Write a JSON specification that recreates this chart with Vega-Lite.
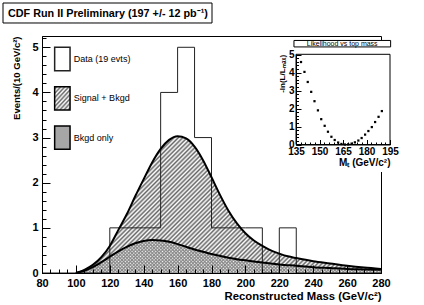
{
"$schema": "https://vega.github.io/schema/vega-lite/v6.json",
"width": 339, "height": 237,
"autosize": {"type": "none"},
"padding": {"left": 42, "top": 36, "right": 43, "bottom": 32},
"background": "white",
"config": {"view": {"stroke": "black", "strokeWidth": 1}, "font": "Liberation Sans", "text": {"font": "Liberation Sans"}},
"datasets": {
"hist": [{"m":80,"n":0},{"m":90,"n":0},{"m":100,"n":0},{"m":110,"n":0},{"m":120,"n":1},{"m":130,"n":1},{"m":140,"n":1},{"m":150,"n":4},{"m":160,"n":5},{"m":170,"n":3},{"m":180,"n":1},{"m":190,"n":1},{"m":200,"n":1},{"m":210,"n":0},{"m":220,"n":1},{"m":230,"n":0},{"m":240,"n":0},{"m":250,"n":0},{"m":260,"n":0},{"m":270,"n":0},{"m":280,"n":0}],
"sig": [{"m":100,"v":0},{"m":105,"v":0.07},{"m":110,"v":0.18},{"m":115,"v":0.35},{"m":120,"v":0.6},{"m":125,"v":0.95},{"m":130,"v":1.3},{"m":135,"v":1.7},{"m":140,"v":2.08},{"m":145,"v":2.45},{"m":150,"v":2.75},{"m":155,"v":2.95},{"m":160,"v":3.03},{"m":165,"v":2.98},{"m":170,"v":2.8},{"m":175,"v":2.5},{"m":180,"v":2.12},{"m":185,"v":1.73},{"m":190,"v":1.38},{"m":195,"v":1.1},{"m":200,"v":0.88},{"m":205,"v":0.72},{"m":210,"v":0.6},{"m":215,"v":0.5},{"m":220,"v":0.43},{"m":225,"v":0.37},{"m":230,"v":0.33},{"m":240,"v":0.26},{"m":250,"v":0.21},{"m":260,"v":0.16},{"m":270,"v":0.12},{"m":280,"v":0.09}],
"bkg": [{"m":100,"v":0},{"m":105,"v":0.05},{"m":110,"v":0.13},{"m":115,"v":0.24},{"m":120,"v":0.36},{"m":125,"v":0.48},{"m":130,"v":0.58},{"m":135,"v":0.66},{"m":140,"v":0.71},{"m":145,"v":0.73},{"m":150,"v":0.72},{"m":155,"v":0.69},{"m":160,"v":0.64},{"m":165,"v":0.58},{"m":170,"v":0.52},{"m":175,"v":0.47},{"m":180,"v":0.42},{"m":190,"v":0.34},{"m":200,"v":0.28},{"m":210,"v":0.23},{"m":220,"v":0.19},{"m":230,"v":0.16},{"m":240,"v":0.13},{"m":250,"v":0.11},{"m":260,"v":0.09},{"m":270,"v":0.08},{"m":280,"v":0.07}],
"lik": [{"mt":138.2,"nll":4.59},{"mt":140.4,"nll":4.04},{"mt":142.5,"nll":3.48},{"mt":144.7,"nll":2.93},{"mt":146.8,"nll":2.41},{"mt":149.0,"nll":1.9},{"mt":151.1,"nll":1.41},{"mt":153.3,"nll":1.04},{"mt":155.4,"nll":0.71},{"mt":157.6,"nll":0.43},{"mt":159.7,"nll":0.25},{"mt":161.9,"nll":0.11},{"mt":164.0,"nll":0.03},{"mt":166.2,"nll":0.0},{"mt":168.3,"nll":0.01},{"mt":170.5,"nll":0.05},{"mt":172.6,"nll":0.12},{"mt":174.8,"nll":0.22},{"mt":176.9,"nll":0.36},{"mt":179.1,"nll":0.55},{"mt":181.2,"nll":0.75},{"mt":183.4,"nll":0.97},{"mt":185.5,"nll":1.25},{"mt":187.7,"nll":1.54},{"mt":189.8,"nll":1.86}]
},
"layer": [
{"layer": [
 {"data": {"name": "sig"},
  "mark": {"type": "area", "interpolate": "monotone", "stroke": null, "fill": {"gradient": "linear", "x1": 0, "y1": 0, "x2": 1.206, "y2": 0.541, "stops": [
{"offset":0,"color":"#fff"},{"offset":0.005,"color":"#666"},{"offset":0.01,"color":"#fff"},{"offset":0.015,"color":"#666"},{"offset":0.02,"color":"#fff"},{"offset":0.025,"color":"#666"},{"offset":0.03,"color":"#fff"},{"offset":0.035,"color":"#666"},{"offset":0.04,"color":"#fff"},{"offset":0.045,"color":"#666"},
{"offset":0.05,"color":"#fff"},{"offset":0.055,"color":"#666"},{"offset":0.06,"color":"#fff"},{"offset":0.065,"color":"#666"},{"offset":0.07,"color":"#fff"},{"offset":0.075,"color":"#666"},{"offset":0.08,"color":"#fff"},{"offset":0.085,"color":"#666"},{"offset":0.09,"color":"#fff"},{"offset":0.095,"color":"#666"},
{"offset":0.1,"color":"#fff"},{"offset":0.105,"color":"#666"},{"offset":0.11,"color":"#fff"},{"offset":0.115,"color":"#666"},{"offset":0.12,"color":"#fff"},{"offset":0.125,"color":"#666"},{"offset":0.13,"color":"#fff"},{"offset":0.135,"color":"#666"},{"offset":0.14,"color":"#fff"},{"offset":0.145,"color":"#666"},
{"offset":0.15,"color":"#fff"},{"offset":0.155,"color":"#666"},{"offset":0.16,"color":"#fff"},{"offset":0.165,"color":"#666"},{"offset":0.17,"color":"#fff"},{"offset":0.175,"color":"#666"},{"offset":0.18,"color":"#fff"},{"offset":0.185,"color":"#666"},{"offset":0.19,"color":"#fff"},{"offset":0.195,"color":"#666"},
{"offset":0.2,"color":"#fff"},{"offset":0.205,"color":"#666"},{"offset":0.21,"color":"#fff"},{"offset":0.215,"color":"#666"},{"offset":0.22,"color":"#fff"},{"offset":0.225,"color":"#666"},{"offset":0.23,"color":"#fff"},{"offset":0.235,"color":"#666"},{"offset":0.24,"color":"#fff"},{"offset":0.245,"color":"#666"},
{"offset":0.25,"color":"#fff"},{"offset":0.255,"color":"#666"},{"offset":0.26,"color":"#fff"},{"offset":0.265,"color":"#666"},{"offset":0.27,"color":"#fff"},{"offset":0.275,"color":"#666"},{"offset":0.28,"color":"#fff"},{"offset":0.285,"color":"#666"},{"offset":0.29,"color":"#fff"},{"offset":0.295,"color":"#666"},
{"offset":0.3,"color":"#fff"},{"offset":0.305,"color":"#666"},{"offset":0.31,"color":"#fff"},{"offset":0.315,"color":"#666"},{"offset":0.32,"color":"#fff"},{"offset":0.325,"color":"#666"},{"offset":0.33,"color":"#fff"},{"offset":0.335,"color":"#666"},{"offset":0.34,"color":"#fff"},{"offset":0.345,"color":"#666"},
{"offset":0.35,"color":"#fff"},{"offset":0.355,"color":"#666"},{"offset":0.36,"color":"#fff"},{"offset":0.365,"color":"#666"},{"offset":0.37,"color":"#fff"},{"offset":0.375,"color":"#666"},{"offset":0.38,"color":"#fff"},{"offset":0.385,"color":"#666"},{"offset":0.39,"color":"#fff"},{"offset":0.395,"color":"#666"},
{"offset":0.4,"color":"#fff"},{"offset":0.405,"color":"#666"},{"offset":0.41,"color":"#fff"},{"offset":0.415,"color":"#666"},{"offset":0.42,"color":"#fff"},{"offset":0.425,"color":"#666"},{"offset":0.43,"color":"#fff"},{"offset":0.435,"color":"#666"},{"offset":0.44,"color":"#fff"},{"offset":0.445,"color":"#666"},
{"offset":0.45,"color":"#fff"},{"offset":0.455,"color":"#666"},{"offset":0.46,"color":"#fff"},{"offset":0.465,"color":"#666"},{"offset":0.47,"color":"#fff"},{"offset":0.475,"color":"#666"},{"offset":0.48,"color":"#fff"},{"offset":0.485,"color":"#666"},{"offset":0.49,"color":"#fff"},{"offset":0.495,"color":"#666"},
{"offset":0.5,"color":"#fff"},{"offset":0.505,"color":"#666"},{"offset":0.51,"color":"#fff"},{"offset":0.515,"color":"#666"},{"offset":0.52,"color":"#fff"},{"offset":0.525,"color":"#666"},{"offset":0.53,"color":"#fff"},{"offset":0.535,"color":"#666"},{"offset":0.54,"color":"#fff"},{"offset":0.545,"color":"#666"},
{"offset":0.55,"color":"#fff"},{"offset":0.555,"color":"#666"},{"offset":0.56,"color":"#fff"},{"offset":0.565,"color":"#666"},{"offset":0.57,"color":"#fff"},{"offset":0.575,"color":"#666"},{"offset":0.58,"color":"#fff"},{"offset":0.585,"color":"#666"},{"offset":0.59,"color":"#fff"},{"offset":0.595,"color":"#666"},
{"offset":0.6,"color":"#fff"},{"offset":0.605,"color":"#666"},{"offset":0.61,"color":"#fff"},{"offset":0.615,"color":"#666"},{"offset":0.62,"color":"#fff"},{"offset":0.625,"color":"#666"},{"offset":0.63,"color":"#fff"},{"offset":0.635,"color":"#666"},{"offset":0.64,"color":"#fff"},{"offset":0.645,"color":"#666"},
{"offset":0.65,"color":"#fff"},{"offset":0.655,"color":"#666"},{"offset":0.66,"color":"#fff"},{"offset":0.665,"color":"#666"},{"offset":0.67,"color":"#fff"},{"offset":0.675,"color":"#666"},{"offset":0.68,"color":"#fff"},{"offset":0.685,"color":"#666"},{"offset":0.69,"color":"#fff"},{"offset":0.695,"color":"#666"},
{"offset":0.7,"color":"#fff"},{"offset":0.705,"color":"#666"},{"offset":0.71,"color":"#fff"},{"offset":0.715,"color":"#666"},{"offset":0.72,"color":"#fff"},{"offset":0.725,"color":"#666"},{"offset":0.73,"color":"#fff"},{"offset":0.735,"color":"#666"},{"offset":0.74,"color":"#fff"},{"offset":0.745,"color":"#666"},
{"offset":0.75,"color":"#fff"},{"offset":0.755,"color":"#666"},{"offset":0.76,"color":"#fff"},{"offset":0.765,"color":"#666"},{"offset":0.77,"color":"#fff"},{"offset":0.775,"color":"#666"},{"offset":0.78,"color":"#fff"},{"offset":0.785,"color":"#666"},{"offset":0.79,"color":"#fff"},{"offset":0.795,"color":"#666"},
{"offset":0.8,"color":"#fff"},{"offset":0.805,"color":"#666"},{"offset":0.81,"color":"#fff"},{"offset":0.815,"color":"#666"},{"offset":0.82,"color":"#fff"},{"offset":0.825,"color":"#666"},{"offset":0.83,"color":"#fff"},{"offset":0.835,"color":"#666"},{"offset":0.84,"color":"#fff"},{"offset":0.845,"color":"#666"},
{"offset":0.85,"color":"#fff"},{"offset":0.855,"color":"#666"},{"offset":0.86,"color":"#fff"},{"offset":0.865,"color":"#666"},{"offset":0.87,"color":"#fff"},{"offset":0.875,"color":"#666"},{"offset":0.88,"color":"#fff"},{"offset":0.885,"color":"#666"},{"offset":0.89,"color":"#fff"},{"offset":0.895,"color":"#666"},
{"offset":0.9,"color":"#fff"},{"offset":0.905,"color":"#666"},{"offset":0.91,"color":"#fff"},{"offset":0.915,"color":"#666"},{"offset":0.92,"color":"#fff"},{"offset":0.925,"color":"#666"},{"offset":0.93,"color":"#fff"},{"offset":0.935,"color":"#666"},{"offset":0.94,"color":"#fff"},{"offset":0.945,"color":"#666"},
{"offset":0.95,"color":"#fff"},{"offset":0.955,"color":"#666"},{"offset":0.96,"color":"#fff"},{"offset":0.965,"color":"#666"},{"offset":0.97,"color":"#fff"},{"offset":0.975,"color":"#666"},{"offset":0.98,"color":"#fff"},{"offset":0.985,"color":"#666"},{"offset":0.99,"color":"#fff"},{"offset":0.995,"color":"#666"},
{"offset":1,"color":"#fff"}]}},
  "encoding": {
   "x": {"field": "m", "type": "quantitative", "scale": {"domain": [80, 280], "nice": false, "zero": false},
    "axis": {"orient": "bottom", "values": [80,100,120,140,160,180,200,220,240,260,280],
     "format": "d", "labelOverlap": false, "labelFlush": false, "tickSize": -8, "labelPadding": 12,
     "domainColor": "black", "tickColor": "black", "grid": false, "zindex": 1,
     "labelFont": "Liberation Sans", "labelFontWeight": "bold", "labelFontSize": 11, "labelColor": "black",
     "title": "Reconstructed Mass (GeV/c²)", "titleAnchor": "end", "titleFont": "Liberation Sans", "titleFontWeight": "bold", "titleFontSize": 11.3, "titleColor": "black", "titlePadding": 2}},
   "y": {"field": "v", "type": "quantitative", "stack": null, "scale": {"domain": [0, 5.25], "nice": false, "zero": false},
    "axis": {"orient": "left", "values": [0,1,2,3,4,5],
     "format": "d", "labelOverlap": false, "labelFlush": false, "tickSize": -8, "labelPadding": 12,
     "domainColor": "black", "tickColor": "black", "grid": false, "zindex": 1,
     "labelFont": "Liberation Sans", "labelFontWeight": "bold", "labelFontSize": 11, "labelColor": "black",
     "title": "Events/(10 GeV/c²)", "titleAnchor": "end", "titleFont": "Liberation Sans", "titleFontWeight": "bold", "titleFontSize": 9.5, "titleColor": "black", "titlePadding": 10}}
  }},
 {"data": {"name": "bkg"},
  "mark": {"type": "area", "interpolate": "monotone", "stroke": null, "fill": {"gradient": "linear", "x1": 0, "y1": 0, "x2": 1.095, "y2": 0.1183, "stops": [
{"offset":0,"color":"#fff"},{"offset":0.005,"color":"#888"},{"offset":0.01,"color":"#fff"},{"offset":0.015,"color":"#888"},{"offset":0.02,"color":"#fff"},{"offset":0.025,"color":"#888"},{"offset":0.03,"color":"#fff"},{"offset":0.035,"color":"#888"},{"offset":0.04,"color":"#fff"},{"offset":0.045,"color":"#888"},
{"offset":0.05,"color":"#fff"},{"offset":0.055,"color":"#888"},{"offset":0.06,"color":"#fff"},{"offset":0.065,"color":"#888"},{"offset":0.07,"color":"#fff"},{"offset":0.075,"color":"#888"},{"offset":0.08,"color":"#fff"},{"offset":0.085,"color":"#888"},{"offset":0.09,"color":"#fff"},{"offset":0.095,"color":"#888"},
{"offset":0.1,"color":"#fff"},{"offset":0.105,"color":"#888"},{"offset":0.11,"color":"#fff"},{"offset":0.115,"color":"#888"},{"offset":0.12,"color":"#fff"},{"offset":0.125,"color":"#888"},{"offset":0.13,"color":"#fff"},{"offset":0.135,"color":"#888"},{"offset":0.14,"color":"#fff"},{"offset":0.145,"color":"#888"},
{"offset":0.15,"color":"#fff"},{"offset":0.155,"color":"#888"},{"offset":0.16,"color":"#fff"},{"offset":0.165,"color":"#888"},{"offset":0.17,"color":"#fff"},{"offset":0.175,"color":"#888"},{"offset":0.18,"color":"#fff"},{"offset":0.185,"color":"#888"},{"offset":0.19,"color":"#fff"},{"offset":0.195,"color":"#888"},
{"offset":0.2,"color":"#fff"},{"offset":0.205,"color":"#888"},{"offset":0.21,"color":"#fff"},{"offset":0.215,"color":"#888"},{"offset":0.22,"color":"#fff"},{"offset":0.225,"color":"#888"},{"offset":0.23,"color":"#fff"},{"offset":0.235,"color":"#888"},{"offset":0.24,"color":"#fff"},{"offset":0.245,"color":"#888"},
{"offset":0.25,"color":"#fff"},{"offset":0.255,"color":"#888"},{"offset":0.26,"color":"#fff"},{"offset":0.265,"color":"#888"},{"offset":0.27,"color":"#fff"},{"offset":0.275,"color":"#888"},{"offset":0.28,"color":"#fff"},{"offset":0.285,"color":"#888"},{"offset":0.29,"color":"#fff"},{"offset":0.295,"color":"#888"},
{"offset":0.3,"color":"#fff"},{"offset":0.305,"color":"#888"},{"offset":0.31,"color":"#fff"},{"offset":0.315,"color":"#888"},{"offset":0.32,"color":"#fff"},{"offset":0.325,"color":"#888"},{"offset":0.33,"color":"#fff"},{"offset":0.335,"color":"#888"},{"offset":0.34,"color":"#fff"},{"offset":0.345,"color":"#888"},
{"offset":0.35,"color":"#fff"},{"offset":0.355,"color":"#888"},{"offset":0.36,"color":"#fff"},{"offset":0.365,"color":"#888"},{"offset":0.37,"color":"#fff"},{"offset":0.375,"color":"#888"},{"offset":0.38,"color":"#fff"},{"offset":0.385,"color":"#888"},{"offset":0.39,"color":"#fff"},{"offset":0.395,"color":"#888"},
{"offset":0.4,"color":"#fff"},{"offset":0.405,"color":"#888"},{"offset":0.41,"color":"#fff"},{"offset":0.415,"color":"#888"},{"offset":0.42,"color":"#fff"},{"offset":0.425,"color":"#888"},{"offset":0.43,"color":"#fff"},{"offset":0.435,"color":"#888"},{"offset":0.44,"color":"#fff"},{"offset":0.445,"color":"#888"},
{"offset":0.45,"color":"#fff"},{"offset":0.455,"color":"#888"},{"offset":0.46,"color":"#fff"},{"offset":0.465,"color":"#888"},{"offset":0.47,"color":"#fff"},{"offset":0.475,"color":"#888"},{"offset":0.48,"color":"#fff"},{"offset":0.485,"color":"#888"},{"offset":0.49,"color":"#fff"},{"offset":0.495,"color":"#888"},
{"offset":0.5,"color":"#fff"},{"offset":0.505,"color":"#888"},{"offset":0.51,"color":"#fff"},{"offset":0.515,"color":"#888"},{"offset":0.52,"color":"#fff"},{"offset":0.525,"color":"#888"},{"offset":0.53,"color":"#fff"},{"offset":0.535,"color":"#888"},{"offset":0.54,"color":"#fff"},{"offset":0.545,"color":"#888"},
{"offset":0.55,"color":"#fff"},{"offset":0.555,"color":"#888"},{"offset":0.56,"color":"#fff"},{"offset":0.565,"color":"#888"},{"offset":0.57,"color":"#fff"},{"offset":0.575,"color":"#888"},{"offset":0.58,"color":"#fff"},{"offset":0.585,"color":"#888"},{"offset":0.59,"color":"#fff"},{"offset":0.595,"color":"#888"},
{"offset":0.6,"color":"#fff"},{"offset":0.605,"color":"#888"},{"offset":0.61,"color":"#fff"},{"offset":0.615,"color":"#888"},{"offset":0.62,"color":"#fff"},{"offset":0.625,"color":"#888"},{"offset":0.63,"color":"#fff"},{"offset":0.635,"color":"#888"},{"offset":0.64,"color":"#fff"},{"offset":0.645,"color":"#888"},
{"offset":0.65,"color":"#fff"},{"offset":0.655,"color":"#888"},{"offset":0.66,"color":"#fff"},{"offset":0.665,"color":"#888"},{"offset":0.67,"color":"#fff"},{"offset":0.675,"color":"#888"},{"offset":0.68,"color":"#fff"},{"offset":0.685,"color":"#888"},{"offset":0.69,"color":"#fff"},{"offset":0.695,"color":"#888"},
{"offset":0.7,"color":"#fff"},{"offset":0.705,"color":"#888"},{"offset":0.71,"color":"#fff"},{"offset":0.715,"color":"#888"},{"offset":0.72,"color":"#fff"},{"offset":0.725,"color":"#888"},{"offset":0.73,"color":"#fff"},{"offset":0.735,"color":"#888"},{"offset":0.74,"color":"#fff"},{"offset":0.745,"color":"#888"},
{"offset":0.75,"color":"#fff"},{"offset":0.755,"color":"#888"},{"offset":0.76,"color":"#fff"},{"offset":0.765,"color":"#888"},{"offset":0.77,"color":"#fff"},{"offset":0.775,"color":"#888"},{"offset":0.78,"color":"#fff"},{"offset":0.785,"color":"#888"},{"offset":0.79,"color":"#fff"},{"offset":0.795,"color":"#888"},
{"offset":0.8,"color":"#fff"},{"offset":0.805,"color":"#888"},{"offset":0.81,"color":"#fff"},{"offset":0.815,"color":"#888"},{"offset":0.82,"color":"#fff"},{"offset":0.825,"color":"#888"},{"offset":0.83,"color":"#fff"},{"offset":0.835,"color":"#888"},{"offset":0.84,"color":"#fff"},{"offset":0.845,"color":"#888"},
{"offset":0.85,"color":"#fff"},{"offset":0.855,"color":"#888"},{"offset":0.86,"color":"#fff"},{"offset":0.865,"color":"#888"},{"offset":0.87,"color":"#fff"},{"offset":0.875,"color":"#888"},{"offset":0.88,"color":"#fff"},{"offset":0.885,"color":"#888"},{"offset":0.89,"color":"#fff"},{"offset":0.895,"color":"#888"},
{"offset":0.9,"color":"#fff"},{"offset":0.905,"color":"#888"},{"offset":0.91,"color":"#fff"},{"offset":0.915,"color":"#888"},{"offset":0.92,"color":"#fff"},{"offset":0.925,"color":"#888"},{"offset":0.93,"color":"#fff"},{"offset":0.935,"color":"#888"},{"offset":0.94,"color":"#fff"},{"offset":0.945,"color":"#888"},
{"offset":0.95,"color":"#fff"},{"offset":0.955,"color":"#888"},{"offset":0.96,"color":"#fff"},{"offset":0.965,"color":"#888"},{"offset":0.97,"color":"#fff"},{"offset":0.975,"color":"#888"},{"offset":0.98,"color":"#fff"},{"offset":0.985,"color":"#888"},{"offset":0.99,"color":"#fff"},{"offset":0.995,"color":"#888"},
{"offset":1,"color":"#fff"}]}},
  "encoding": {
   "x": {"field": "m", "type": "quantitative",
    "axis": {"orient": "bottom", "values": [80,85,90,95,100,105,110,115,120,125,130,135,140,145,150,155,160,165,170,175,180,185,190,195,200,205,210,215,220,225,230,235,240,245,250,255,260,265,270,275,280],
     "labels": false, "domain": false, "title": null, "grid": false, "tickSize": -4, "tickColor": "black", "zindex": 1}},
   "y": {"field": "v", "type": "quantitative", "stack": null,
    "axis": {"orient": "left", "values": [0,0.2,0.4,0.6,0.8,1,1.2,1.4,1.6,1.8,2,2.2,2.4,2.6,2.8,3,3.2,3.4,3.6,3.8,4,4.2,4.4,4.6,4.8,5,5.2],
     "labels": false, "domain": false, "title": null, "grid": false, "tickSize": -4, "tickColor": "black", "zindex": 1}}}},
 {"data": {"name": "bkg"},
  "mark": {"type": "area", "interpolate": "monotone", "stroke": null, "fill": {"gradient": "linear", "x1": 0, "y1": 1, "x2": 1.095, "y2": 0.8817, "stops": [
{"offset":0,"color":"rgba(136,136,136,0)"},{"offset":0.005,"color":"#888"},{"offset":0.01,"color":"rgba(136,136,136,0)"},{"offset":0.015,"color":"#888"},{"offset":0.02,"color":"rgba(136,136,136,0)"},{"offset":0.025,"color":"#888"},{"offset":0.03,"color":"rgba(136,136,136,0)"},{"offset":0.035,"color":"#888"},{"offset":0.04,"color":"rgba(136,136,136,0)"},{"offset":0.045,"color":"#888"},
{"offset":0.05,"color":"rgba(136,136,136,0)"},{"offset":0.055,"color":"#888"},{"offset":0.06,"color":"rgba(136,136,136,0)"},{"offset":0.065,"color":"#888"},{"offset":0.07,"color":"rgba(136,136,136,0)"},{"offset":0.075,"color":"#888"},{"offset":0.08,"color":"rgba(136,136,136,0)"},{"offset":0.085,"color":"#888"},{"offset":0.09,"color":"rgba(136,136,136,0)"},{"offset":0.095,"color":"#888"},
{"offset":0.1,"color":"rgba(136,136,136,0)"},{"offset":0.105,"color":"#888"},{"offset":0.11,"color":"rgba(136,136,136,0)"},{"offset":0.115,"color":"#888"},{"offset":0.12,"color":"rgba(136,136,136,0)"},{"offset":0.125,"color":"#888"},{"offset":0.13,"color":"rgba(136,136,136,0)"},{"offset":0.135,"color":"#888"},{"offset":0.14,"color":"rgba(136,136,136,0)"},{"offset":0.145,"color":"#888"},
{"offset":0.15,"color":"rgba(136,136,136,0)"},{"offset":0.155,"color":"#888"},{"offset":0.16,"color":"rgba(136,136,136,0)"},{"offset":0.165,"color":"#888"},{"offset":0.17,"color":"rgba(136,136,136,0)"},{"offset":0.175,"color":"#888"},{"offset":0.18,"color":"rgba(136,136,136,0)"},{"offset":0.185,"color":"#888"},{"offset":0.19,"color":"rgba(136,136,136,0)"},{"offset":0.195,"color":"#888"},
{"offset":0.2,"color":"rgba(136,136,136,0)"},{"offset":0.205,"color":"#888"},{"offset":0.21,"color":"rgba(136,136,136,0)"},{"offset":0.215,"color":"#888"},{"offset":0.22,"color":"rgba(136,136,136,0)"},{"offset":0.225,"color":"#888"},{"offset":0.23,"color":"rgba(136,136,136,0)"},{"offset":0.235,"color":"#888"},{"offset":0.24,"color":"rgba(136,136,136,0)"},{"offset":0.245,"color":"#888"},
{"offset":0.25,"color":"rgba(136,136,136,0)"},{"offset":0.255,"color":"#888"},{"offset":0.26,"color":"rgba(136,136,136,0)"},{"offset":0.265,"color":"#888"},{"offset":0.27,"color":"rgba(136,136,136,0)"},{"offset":0.275,"color":"#888"},{"offset":0.28,"color":"rgba(136,136,136,0)"},{"offset":0.285,"color":"#888"},{"offset":0.29,"color":"rgba(136,136,136,0)"},{"offset":0.295,"color":"#888"},
{"offset":0.3,"color":"rgba(136,136,136,0)"},{"offset":0.305,"color":"#888"},{"offset":0.31,"color":"rgba(136,136,136,0)"},{"offset":0.315,"color":"#888"},{"offset":0.32,"color":"rgba(136,136,136,0)"},{"offset":0.325,"color":"#888"},{"offset":0.33,"color":"rgba(136,136,136,0)"},{"offset":0.335,"color":"#888"},{"offset":0.34,"color":"rgba(136,136,136,0)"},{"offset":0.345,"color":"#888"},
{"offset":0.35,"color":"rgba(136,136,136,0)"},{"offset":0.355,"color":"#888"},{"offset":0.36,"color":"rgba(136,136,136,0)"},{"offset":0.365,"color":"#888"},{"offset":0.37,"color":"rgba(136,136,136,0)"},{"offset":0.375,"color":"#888"},{"offset":0.38,"color":"rgba(136,136,136,0)"},{"offset":0.385,"color":"#888"},{"offset":0.39,"color":"rgba(136,136,136,0)"},{"offset":0.395,"color":"#888"},
{"offset":0.4,"color":"rgba(136,136,136,0)"},{"offset":0.405,"color":"#888"},{"offset":0.41,"color":"rgba(136,136,136,0)"},{"offset":0.415,"color":"#888"},{"offset":0.42,"color":"rgba(136,136,136,0)"},{"offset":0.425,"color":"#888"},{"offset":0.43,"color":"rgba(136,136,136,0)"},{"offset":0.435,"color":"#888"},{"offset":0.44,"color":"rgba(136,136,136,0)"},{"offset":0.445,"color":"#888"},
{"offset":0.45,"color":"rgba(136,136,136,0)"},{"offset":0.455,"color":"#888"},{"offset":0.46,"color":"rgba(136,136,136,0)"},{"offset":0.465,"color":"#888"},{"offset":0.47,"color":"rgba(136,136,136,0)"},{"offset":0.475,"color":"#888"},{"offset":0.48,"color":"rgba(136,136,136,0)"},{"offset":0.485,"color":"#888"},{"offset":0.49,"color":"rgba(136,136,136,0)"},{"offset":0.495,"color":"#888"},
{"offset":0.5,"color":"rgba(136,136,136,0)"},{"offset":0.505,"color":"#888"},{"offset":0.51,"color":"rgba(136,136,136,0)"},{"offset":0.515,"color":"#888"},{"offset":0.52,"color":"rgba(136,136,136,0)"},{"offset":0.525,"color":"#888"},{"offset":0.53,"color":"rgba(136,136,136,0)"},{"offset":0.535,"color":"#888"},{"offset":0.54,"color":"rgba(136,136,136,0)"},{"offset":0.545,"color":"#888"},
{"offset":0.55,"color":"rgba(136,136,136,0)"},{"offset":0.555,"color":"#888"},{"offset":0.56,"color":"rgba(136,136,136,0)"},{"offset":0.565,"color":"#888"},{"offset":0.57,"color":"rgba(136,136,136,0)"},{"offset":0.575,"color":"#888"},{"offset":0.58,"color":"rgba(136,136,136,0)"},{"offset":0.585,"color":"#888"},{"offset":0.59,"color":"rgba(136,136,136,0)"},{"offset":0.595,"color":"#888"},
{"offset":0.6,"color":"rgba(136,136,136,0)"},{"offset":0.605,"color":"#888"},{"offset":0.61,"color":"rgba(136,136,136,0)"},{"offset":0.615,"color":"#888"},{"offset":0.62,"color":"rgba(136,136,136,0)"},{"offset":0.625,"color":"#888"},{"offset":0.63,"color":"rgba(136,136,136,0)"},{"offset":0.635,"color":"#888"},{"offset":0.64,"color":"rgba(136,136,136,0)"},{"offset":0.645,"color":"#888"},
{"offset":0.65,"color":"rgba(136,136,136,0)"},{"offset":0.655,"color":"#888"},{"offset":0.66,"color":"rgba(136,136,136,0)"},{"offset":0.665,"color":"#888"},{"offset":0.67,"color":"rgba(136,136,136,0)"},{"offset":0.675,"color":"#888"},{"offset":0.68,"color":"rgba(136,136,136,0)"},{"offset":0.685,"color":"#888"},{"offset":0.69,"color":"rgba(136,136,136,0)"},{"offset":0.695,"color":"#888"},
{"offset":0.7,"color":"rgba(136,136,136,0)"},{"offset":0.705,"color":"#888"},{"offset":0.71,"color":"rgba(136,136,136,0)"},{"offset":0.715,"color":"#888"},{"offset":0.72,"color":"rgba(136,136,136,0)"},{"offset":0.725,"color":"#888"},{"offset":0.73,"color":"rgba(136,136,136,0)"},{"offset":0.735,"color":"#888"},{"offset":0.74,"color":"rgba(136,136,136,0)"},{"offset":0.745,"color":"#888"},
{"offset":0.75,"color":"rgba(136,136,136,0)"},{"offset":0.755,"color":"#888"},{"offset":0.76,"color":"rgba(136,136,136,0)"},{"offset":0.765,"color":"#888"},{"offset":0.77,"color":"rgba(136,136,136,0)"},{"offset":0.775,"color":"#888"},{"offset":0.78,"color":"rgba(136,136,136,0)"},{"offset":0.785,"color":"#888"},{"offset":0.79,"color":"rgba(136,136,136,0)"},{"offset":0.795,"color":"#888"},
{"offset":0.8,"color":"rgba(136,136,136,0)"},{"offset":0.805,"color":"#888"},{"offset":0.81,"color":"rgba(136,136,136,0)"},{"offset":0.815,"color":"#888"},{"offset":0.82,"color":"rgba(136,136,136,0)"},{"offset":0.825,"color":"#888"},{"offset":0.83,"color":"rgba(136,136,136,0)"},{"offset":0.835,"color":"#888"},{"offset":0.84,"color":"rgba(136,136,136,0)"},{"offset":0.845,"color":"#888"},
{"offset":0.85,"color":"rgba(136,136,136,0)"},{"offset":0.855,"color":"#888"},{"offset":0.86,"color":"rgba(136,136,136,0)"},{"offset":0.865,"color":"#888"},{"offset":0.87,"color":"rgba(136,136,136,0)"},{"offset":0.875,"color":"#888"},{"offset":0.88,"color":"rgba(136,136,136,0)"},{"offset":0.885,"color":"#888"},{"offset":0.89,"color":"rgba(136,136,136,0)"},{"offset":0.895,"color":"#888"},
{"offset":0.9,"color":"rgba(136,136,136,0)"},{"offset":0.905,"color":"#888"},{"offset":0.91,"color":"rgba(136,136,136,0)"},{"offset":0.915,"color":"#888"},{"offset":0.92,"color":"rgba(136,136,136,0)"},{"offset":0.925,"color":"#888"},{"offset":0.93,"color":"rgba(136,136,136,0)"},{"offset":0.935,"color":"#888"},{"offset":0.94,"color":"rgba(136,136,136,0)"},{"offset":0.945,"color":"#888"},
{"offset":0.95,"color":"rgba(136,136,136,0)"},{"offset":0.955,"color":"#888"},{"offset":0.96,"color":"rgba(136,136,136,0)"},{"offset":0.965,"color":"#888"},{"offset":0.97,"color":"rgba(136,136,136,0)"},{"offset":0.975,"color":"#888"},{"offset":0.98,"color":"rgba(136,136,136,0)"},{"offset":0.985,"color":"#888"},{"offset":0.99,"color":"rgba(136,136,136,0)"},{"offset":0.995,"color":"#888"},
{"offset":1,"color":"rgba(136,136,136,0)"}]}},
  "encoding": {"x": {"field": "m", "type": "quantitative", "axis": null}, "y": {"field": "v", "type": "quantitative", "stack": null, "axis": null}}},
 {"data": {"name": "hist"},
  "mark": {"type": "line", "interpolate": "step-after", "strokeWidth": 1},
  "encoding": {"x": {"field": "m", "type": "quantitative", "axis": null}, "y": {"field": "n", "type": "quantitative", "axis": null},
   "stroke": {"datum": "Data (19 evts)", "type": "nominal",
    "scale": {"domain": ["Data (19 evts)", "Signal + Bkgd", "Bkgd only"], "range": ["#222222", "black", "black"]},
    "legend": {"orient": "none", "legendX": 7.85, "legendY": 10.5, "title": null,
     "symbolType": "M-0.66,-1H0.66V1H-0.66Z", "symbolSize": 543, "symbolStrokeWidth": 1.5, "symbolStrokeColor": "black",
     "rowPadding": 8.3, "padding": 0, "labelFont": "Liberation Sans", "labelFontSize": 9, "labelColor": "black", "labelOffset": -1,
     "encode": {"symbols": {"update": {"stroke": {"value": "black"}, "strokeWidth": {"value": 1.5},
      "fill": {"signal": "datum.value === 'Signal + Bkgd' ? {gradient: 'linear', x1: 0, y1: 0, x2: 0.813, y2: 1.134, stops: [{offset: 0, color: '#fff'}, {offset: 0.056, color: '#666'}, {offset: 0.111, color: '#fff'}, {offset: 0.167, color: '#666'}, {offset: 0.222, color: '#fff'}, {offset: 0.278, color: '#666'}, {offset: 0.333, color: '#fff'}, {offset: 0.389, color: '#666'}, {offset: 0.444, color: '#fff'}, {offset: 0.5, color: '#666'}, {offset: 0.556, color: '#fff'}, {offset: 0.611, color: '#666'}, {offset: 0.667, color: '#fff'}, {offset: 0.722, color: '#666'}, {offset: 0.778, color: '#fff'}, {offset: 0.833, color: '#666'}, {offset: 0.889, color: '#fff'}, {offset: 0.944, color: '#666'}, {offset: 1, color: '#fff'}]} : (datum.value === 'Bkgd only' ? '#a6a6a6' : '#ffffff')"}}}}}}}},
 {"data": {"name": "sig"},
  "mark": {"type": "line", "interpolate": "monotone", "strokeWidth": 2},
  "encoding": {"x": {"field": "m", "type": "quantitative", "axis": null}, "y": {"field": "v", "type": "quantitative", "axis": null}, "stroke": {"datum": "Signal + Bkgd", "type": "nominal"}}},
 {"data": {"name": "bkg"},
  "mark": {"type": "line", "interpolate": "monotone", "strokeWidth": 2},
  "encoding": {"x": {"field": "m", "type": "quantitative", "axis": null}, "y": {"field": "v", "type": "quantitative", "axis": null}, "stroke": {"datum": "Bkgd only", "type": "nominal"}}},
 {"data": {"values": [{}]},
  "mark": {"type": "rect", "fill": "white", "stroke": "black", "strokeWidth": 1},
  "encoding": {"x": {"datum": 57, "type": "quantitative", "axis": null}, "x2": {"datum": 180.3}, "y": {"datum": 5.538, "type": "quantitative", "axis": null}, "y2": {"datum": 5.981}}},
 {"data": {"values": [{}]},
  "mark": {"type": "text", "text": "CDF Run II Preliminary (197 +/- 12 pb⁻¹)", "align": "left", "baseline": "alphabetic", "font": "Liberation Sans", "fontWeight": "bold", "fontSize": 10.8, "color": "black"},
  "encoding": {"x": {"datum": 59.94, "type": "quantitative", "axis": null}, "y": {"datum": 5.671, "type": "quantitative", "axis": null}}}
],
"resolve": {"axis": {"x": "independent", "y": "independent"}}},
{"layer": [
 {"data": {"values": [{}]},
  "mark": {"type": "rect", "fill": "white", "stroke": null},
  "encoding": {
   "x": {"datum": 126, "type": "quantitative", "scale": {"domain": [135, 195], "range": [254, 348], "nice": false, "zero": false},
    "axis": {"orient": "bottom", "offset": -128.5, "values": [135,150,165,180,195],
     "format": "d", "labelOverlap": false, "labelFlush": false, "tickSize": -5, "labelPadding": 7,
     "domainColor": "black", "tickColor": "black", "grid": false, "zindex": 1,
     "labelFont": "Liberation Sans", "labelFontWeight": "bold", "labelFontSize": 10, "labelColor": "black",
     "title": "Mₜ (GeV/c²)", "titleAnchor": "end", "titleFont": "Liberation Sans", "titleFontWeight": "bold", "titleFontSize": 10, "titleColor": "black", "titlePadding": 1}},
   "x2": {"datum": 217.2},
   "y": {"datum": -1.53, "type": "quantitative", "scale": {"domain": [0, 5.02], "range": [108.5, 18.3], "nice": false, "zero": false},
    "axis": {"orient": "left", "offset": -254, "values": [0,1,2,3,4,5],
     "format": "d", "labelOverlap": false, "labelFlush": false, "tickSize": -5, "labelPadding": 7,
     "domainColor": "black", "tickColor": "black", "grid": false, "zindex": 1,
     "labelFont": "Liberation Sans", "labelFontWeight": "bold", "labelFontSize": 10, "labelColor": "black",
     "title": "-ln(L/Lₘₐₓ)", "titleAnchor": "end", "titleFont": "Liberation Sans", "titleFontWeight": "bold", "titleFontSize": 8, "titleColor": "black", "titlePadding": 2}},
   "y2": {"datum": 5.815}}},
 {"data": {"values": [{}]},
  "mark": {"type": "rect", "fill": null, "stroke": "black", "strokeWidth": 1},
  "encoding": {
   "x": {"datum": 135, "type": "quantitative",
    "axis": {"orient": "bottom", "offset": -128.5, "values": [135,138,141,144,147,150,153,156,159,162,165,168,171,174,177,180,183,186,189,192,195],
     "labels": false, "domain": false, "title": null, "grid": false, "tickSize": -2.5, "tickColor": "black", "zindex": 1}},
   "x2": {"datum": 195},
   "y": {"datum": 0, "type": "quantitative",
    "axis": {"orient": "left", "offset": -254, "values": [0,0.2,0.4,0.6,0.8,1,1.2,1.4,1.6,1.8,2,2.2,2.4,2.6,2.8,3,3.2,3.4,3.6,3.8,4,4.2,4.4,4.6,4.8,5],
     "labels": false, "domain": false, "title": null, "grid": false, "tickSize": -2.5, "tickColor": "black", "zindex": 1}},
   "y2": {"datum": 5.02}}},
 {"data": {"values": [{}]},
  "mark": {"type": "rect", "fill": "white", "stroke": "black", "strokeWidth": 1},
  "encoding": {"x": {"datum": 133.7, "type": "quantitative", "axis": null}, "x2": {"datum": 195.4}, "y": {"datum": 5.43, "type": "quantitative", "axis": null}, "y2": {"datum": 5.79}}},
 {"data": {"values": [{}]},
  "mark": {"type": "text", "text": "Likelihood vs top mass", "align": "center", "baseline": "middle", "font": "Liberation Sans", "fontSize": 7, "color": "black"},
  "encoding": {"x": {"datum": 164.5, "type": "quantitative", "axis": null}, "y": {"datum": 5.61, "type": "quantitative", "axis": null}}},
 {"data": {"name": "lik"},
  "mark": {"type": "point", "shape": "square", "filled": true, "size": 5, "color": "black", "opacity": 1},
  "encoding": {"x": {"field": "mt", "type": "quantitative", "axis": null}, "y": {"field": "nll", "type": "quantitative", "axis": null}}}
],
"resolve": {"axis": {"x": "independent", "y": "independent"}}}
],
"resolve": {"scale": {"x": "independent", "y": "independent"}, "axis": {"x": "independent", "y": "independent"}}
}
